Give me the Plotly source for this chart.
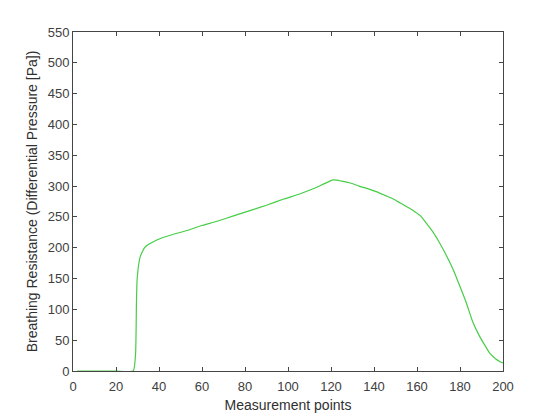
import plotly.graph_objects as go

measurement_points = [2, 10, 20, 28, 29.1, 29.5, 29.8, 30.2, 30.6, 31.3, 32.2, 33.3, 34.5, 37, 40.7, 46, 53, 60,
                      67, 75, 83, 90, 98, 106, 112, 117, 121, 125, 129, 133, 137, 141, 145, 149, 152, 155,
                      158, 161.5, 164.5, 167.7, 170, 172.4, 175, 177, 180, 183, 186, 189, 191.5, 194, 196.5,
                      198.7, 200]
pressure = [0, 0, 0, 0, 28, 109, 147, 163, 174, 186, 193, 200, 204, 209, 215, 221, 228, 236,
            243, 252, 261, 269, 279, 288, 296, 304, 310, 308, 305, 300, 296, 291, 285, 279, 273, 267,
            261, 252, 239, 224, 211, 196, 178, 163, 137, 110, 79, 57, 42, 28, 20,
            15, 13]

x_ticks = [0, 20, 40, 60, 80, 100, 120, 140, 160, 180, 200]
y_ticks = [0, 50, 100, 150, 200, 250, 300, 350, 400, 450, 500, 550]

fig = go.Figure()
fig.add_trace(go.Scatter(x=measurement_points, y=pressure, mode="lines",
                         line=dict(color="rgb(70,205,70)", width=1.2, shape="spline", smoothing=0.5),
                         showlegend=False))

font_family = "Liberation Sans, Arial, sans-serif"
axis_common = dict(showline=True, linecolor="#454545", linewidth=1, mirror="ticks",
                   ticks="inside", ticklen=4, tickcolor="#454545", showgrid=False, zeroline=False,
                   automargin=False,
                   tickfont=dict(family=font_family, size=13, color="#404040"))

fig.update_layout(
    width=548, height=409,
    margin=dict(l=64.5, r=53.3, t=23.7, b=46.3),
    paper_bgcolor="white", plot_bgcolor="white",
    xaxis=dict(range=[0, 200], tickvals=x_ticks, ticklabelstandoff=3,
               title=dict(text="Measurement points", standoff=7,
                          font=dict(family=font_family, size=14, color="#303030")),
               **axis_common),
    yaxis=dict(range=[0, 550], tickvals=y_ticks,
               title=dict(text="Breathing Resistance (Differential Pressure [Pa])", standoff=6,
                          font=dict(family=font_family, size=14, color="#303030")),
               **axis_common),
)

fig.write_html("out.html")
